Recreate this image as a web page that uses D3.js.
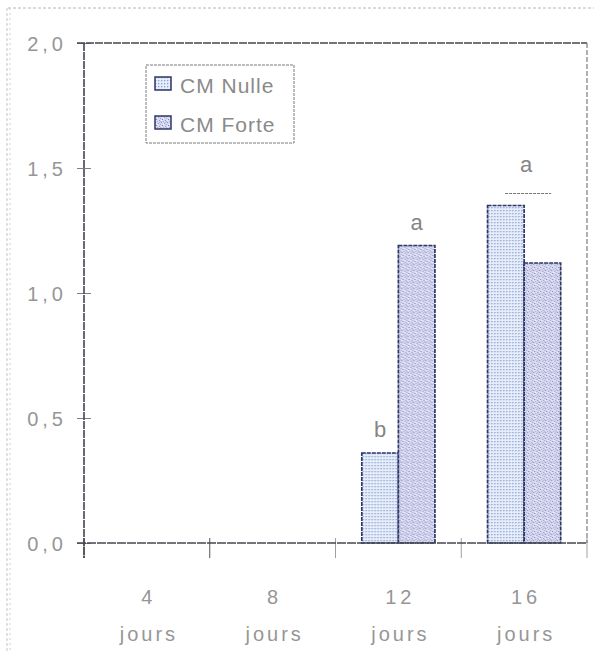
<!DOCTYPE html>
<html>
<head>
<meta charset="utf-8">
<script src="https://cdn.jsdelivr.net/npm/d3@7"></script>
<style>
  html, body { margin: 0; padding: 0; background: #ffffff; }
  svg { display: block; }
  text { font-family: "Liberation Sans", Arial, sans-serif; }
</style>
</head>
<body>
<svg id="chart" width="594" height="653"></svg>
<script>
// ---- data ----
const categories = ["4", "8", "12", "16"];
const categoryUnit = "jours";
const seriesNames = ["CM Nulle", "CM Forte"];
const nulleValues = [0, 0, 0.36, 1.35];
const forteValues = [0, 0, 1.19, 1.12];
const yTickValues = [0, 0.5, 1.0, 1.5, 2.0];
const barLetters = [
  { cat: "12", series: 0, text: "b" },
  { cat: "12", series: 1, text: "a" }
];
const groupLetters = [
  { cat: "16", text: "a" }
];

// ---- layout ----
const svg = d3.select("#chart");
const L = 84, R = 587, T = 43, B = 543;
const textCol = "#969696";
const axisCol = "#45454f";

const defs = svg.append("defs");
// pattern for CM Nulle: fine dotted grid, light blue
const p1 = defs.append("pattern").attr("id", "patNulle")
  .attr("width", 3).attr("height", 3).attr("patternUnits", "userSpaceOnUse");
p1.append("rect").attr("width", 3).attr("height", 3).attr("fill", "#e8eef9");
p1.append("rect").attr("width", 1).attr("height", 1).attr("fill", "#8ba2d3");
p1.append("rect").attr("x", 1).attr("y", 0).attr("width", 1).attr("height", 1).attr("fill", "#c3d1ec");
p1.append("rect").attr("x", 0).attr("y", 1).attr("width", 1).attr("height", 1).attr("fill", "#c3d1ec");
// pattern for CM Forte: denser stipple, blue / pink
const p2 = defs.append("pattern").attr("id", "patForte")
  .attr("width", 6).attr("height", 6).attr("patternUnits", "userSpaceOnUse");
p2.append("rect").attr("width", 6).attr("height", 6).attr("fill", "#d6daef");
[[0,0,"#7f8cc8"],[3,1,"#b493c2"],[1,3,"#7483c2"],[4,4,"#8f9cd3"],[2,5,"#c3a0c6"],[5,2,"#9ea9d9"],[0,4,"#eef0fa"],[4,0,"#c2b0d4"],[2,2,"#f1f2fb"],[5,5,"#aab3de"]]
  .forEach(([x,y,c]) => p2.append("rect").attr("x", x).attr("y", y).attr("width", 1).attr("height", 1).attr("fill", c));
const fills = ["url(#patNulle)", "url(#patForte)"];

// outer scan frame
svg.append("line").attr("x1", 8).attr("x2", 594).attr("y1", 8).attr("y2", 8)
  .attr("stroke", "#b8b8b8").attr("stroke-width", 1).attr("stroke-dasharray", "3,2");
svg.append("line").attr("x1", 7).attr("x2", 7).attr("y1", 8).attr("y2", 653)
  .attr("stroke", "#c4c4c4").attr("stroke-width", 1).attr("stroke-dasharray", "3,2");
svg.append("line").attr("x1", 10).attr("x2", 10).attr("y1", 8).attr("y2", 653)
  .attr("stroke", "#d0d0d0").attr("stroke-width", 1).attr("stroke-dasharray", "2,3");

// scales
const x0 = d3.scaleBand().domain(categories).range([L, R]).paddingInner(0).paddingOuter(0);
const x1 = d3.scaleBand().domain([0, 1]).range([0, x0.bandwidth()]).paddingInner(0).paddingOuter(0.72);
const y = d3.scaleLinear().domain([0, 2]).range([B, T]);

// y axis
const yAxis = d3.axisLeft(y).tickValues(yTickValues).tickSize(7)
  .tickFormat(d => d3.format(".1f")(d).replace(".", ","));
const gy = svg.append("g").attr("transform", `translate(${L},0)`).call(yAxis);
gy.select(".domain").remove();
gy.selectAll(".tick line").attr("x2", 7).attr("x1", -7).attr("stroke", "#808080").attr("stroke-width", 1);
gy.selectAll(".tick text").attr("x", -17).attr("dy", "0.36em")
  .attr("fill", textCol).attr("font-size", 20).style("letter-spacing", "4px");

// x axis
const gx = svg.append("g").attr("transform", `translate(0,${B})`);
const xTickPos = categories.map(c => x0(c)).concat([R]);
gx.selectAll("line.xt").data(xTickPos).join("line").attr("class", "xt")
  .attr("x1", d => d).attr("x2", d => d).attr("y1", -5).attr("y2", 15)
  .attr("stroke", (d, i) => (i >= 2 ? "#a0a0a0" : "#555")).attr("stroke-width", 1);
const lab = gx.selectAll("text.xl").data(categories).join("text").attr("class", "xl")
  .attr("x", d => x0(d) + x0.bandwidth() / 2).attr("text-anchor", "middle")
  .attr("fill", textCol).attr("font-size", 20);
lab.append("tspan").attr("x", d => x0(d) + x0.bandwidth() / 2 + 2).attr("y", 61)
  .style("letter-spacing", "4px").text(d => d);
lab.append("tspan").attr("x", d => x0(d) + x0.bandwidth() / 2 + 2).attr("y", 98)
  .style("letter-spacing", "3px").text(categoryUnit);

// bars
const rows = categories.map((c, i) => ({ cat: c, vals: [nulleValues[i], forteValues[i]] }));
const groups = svg.append("g").selectAll("g").data(rows).join("g")
  .attr("transform", d => `translate(${x0(d.cat)},0)`);
groups.selectAll("rect").data(d => d.vals.map((v, s) => ({ v, s }))).join("rect")
  .attr("x", d => x1(d.s)).attr("width", x1.bandwidth())
  .attr("y", d => y(d.v)).attr("height", d => y(0) - y(d.v))
  .attr("fill", d => fills[d.s])
  .attr("stroke", "#2f3768").attr("stroke-width", 1.7).attr("stroke-dasharray", "4,1");

// frame (top, right) and axes lines
svg.append("line").attr("x1", L - 7).attr("x2", R).attr("y1", T).attr("y2", T)
  .attr("stroke", axisCol).attr("stroke-width", 1.6).attr("stroke-dasharray", "8,1");
svg.append("line").attr("x1", R).attr("x2", R).attr("y1", T).attr("y2", B)
  .attr("stroke", "#7a7a84").attr("stroke-width", 1.2).attr("stroke-dasharray", "5,2");
svg.append("line").attr("x1", L).attr("x2", L).attr("y1", T).attr("y2", B + 15)
  .attr("stroke", axisCol).attr("stroke-width", 1.6).attr("stroke-dasharray", "8,1");
svg.append("line").attr("x1", L - 7).attr("x2", R).attr("y1", B).attr("y2", B)
  .attr("stroke", axisCol).attr("stroke-width", 1.6).attr("stroke-dasharray", "9,1");

// significance letters
const valOf = (cat, s) => (s === 0 ? nulleValues : forteValues)[categories.indexOf(cat)];
svg.selectAll("text.bl").data(barLetters).join("text").attr("class", "bl")
  .attr("x", d => x0(d.cat) + x1(d.series) + x1.bandwidth() / 2)
  .attr("y", d => y(valOf(d.cat, d.series)) - 16)
  .attr("text-anchor", "middle").attr("fill", "#858585").attr("font-size", 22)
  .text(d => d.text);
groupLetters.forEach(g => {
  const top = Math.max(valOf(g.cat, 0), valOf(g.cat, 1));
  const cx = x0(g.cat) + x0.bandwidth() / 2;
  svg.append("line").attr("x1", cx - 19).attr("x2", cx + 27)
    .attr("y1", y(top) - 12).attr("y2", y(top) - 12)
    .attr("stroke", "#777").attr("stroke-width", 1.2).attr("stroke-dasharray", "3,1");
  svg.append("text").attr("x", cx + 2).attr("y", y(top) - 34)
    .attr("text-anchor", "middle").attr("fill", "#858585").attr("font-size", 22)
    .text(g.text);
});

// legend
const lg = svg.append("g");
lg.append("rect").attr("x", 146).attr("y", 65).attr("width", 148).attr("height", 78)
  .attr("fill", "#fff").attr("stroke", "#7a7a7a").attr("stroke-width", 1).attr("stroke-dasharray", "3,1");
const li = lg.selectAll("g").data(seriesNames).join("g")
  .attr("transform", (d, i) => `translate(155,${77 + i * 39})`);
li.append("rect").attr("width", 16).attr("height", 13).attr("fill", (d, i) => fills[i])
  .attr("stroke", "#2f3768").attr("stroke-width", 1.5);
li.append("text").attr("x", 25).attr("y", 16).attr("fill", "#8a8a8a").attr("font-size", 21)
  .style("letter-spacing", "1px").text(d => d);
</script>
</body>
</html>
